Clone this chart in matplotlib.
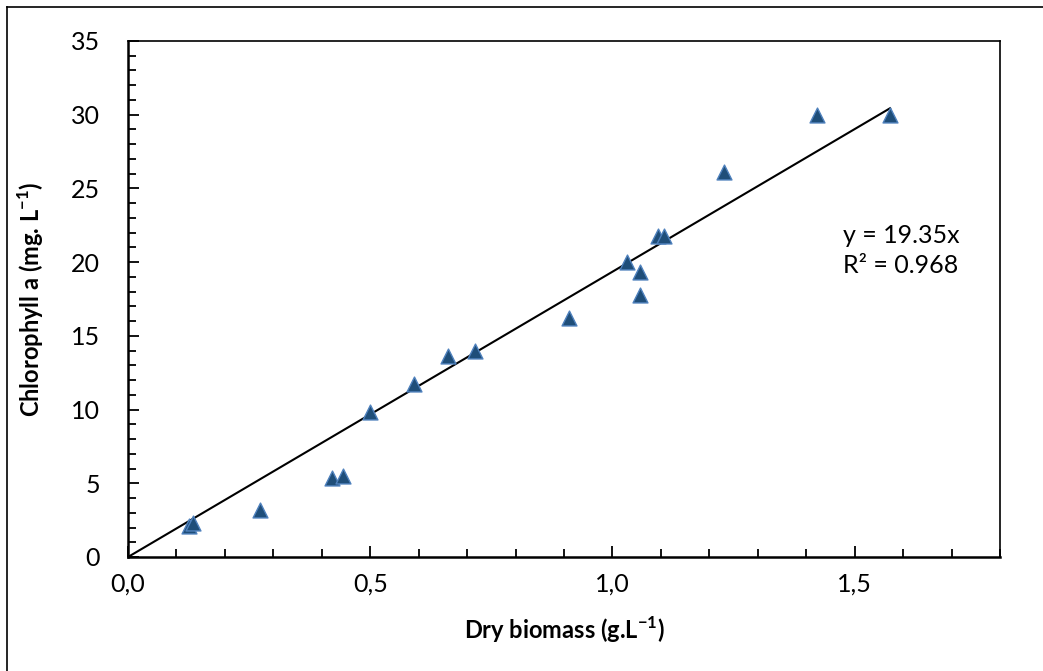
import matplotlib
matplotlib.use('Agg')
import matplotlib.pyplot as plt
from matplotlib.lines import Line2D
from matplotlib.ticker import MultipleLocator, FuncFormatter
import numpy as np

plt.rcParams['font.family'] = ['Lato', 'DejaVu Sans']
plt.rcParams['mathtext.fontset'] = 'custom'
plt.rcParams['mathtext.rm'] = 'Lato'
plt.rcParams['mathtext.bf'] = 'Lato:bold'

# dry biomass (g/L) vs chlorophyll a (mg/L)
dry_biomass = [0.126, 0.135, 0.272, 0.421, 0.443, 0.50, 0.591, 0.660, 0.717,
               0.910, 1.030, 1.057, 1.057, 1.095, 1.106, 1.231, 1.422, 1.573]
chlorophyll = [2.1, 2.3, 3.2, 5.35, 5.5, 9.85, 11.75, 13.6, 14.0,
               16.2, 20.0, 19.3, 17.75, 21.75, 21.75, 26.1, 30.0, 30.0]
slope = 19.35
r_squared = 0.968

W, H = 1043, 671
fig = plt.figure(figsize=(W / 100, H / 100), dpi=100)
ax = fig.add_axes([128 / W, (H - 557) / H, 872 / W, 516 / H])

# trendline through origin
x_fit = np.array([0, max(dry_biomass)])
ax.plot(x_fit, slope * x_fit, color='black', lw=1.5, zorder=2)

ax.scatter(dry_biomass, chlorophyll, marker='^', s=115, facecolor='#1F4E79',
           edgecolor='#4F81BD', linewidth=1.0, zorder=3)

ax.set_xlim(0, 1.8)
ax.set_ylim(0, 35)
ax.xaxis.set_major_locator(MultipleLocator(0.5))
ax.xaxis.set_minor_locator(MultipleLocator(0.1))
ax.yaxis.set_major_locator(MultipleLocator(5))
ax.yaxis.set_minor_locator(MultipleLocator(1))
ax.xaxis.set_major_formatter(FuncFormatter(lambda v, p: f'{v:.1f}'.replace('.', ',')))

ax.tick_params(which='both', direction='in', colors='black', width=1.3)
ax.tick_params(which='major', length=8, labelsize=18)
ax.tick_params(which='minor', length=6)
ax.tick_params(axis='y', which='major', pad=20)
ax.tick_params(axis='x', which='major', pad=11)

for side in ['left', 'bottom']:
    ax.spines[side].set_linewidth(1.8)
for side in ['top', 'right']:
    ax.spines[side].set_linewidth(1.2)

ax.set_xlabel(r'Dry biomass (g.L$^{\mathbf{-1}}$)', fontsize=17, fontweight='bold',
              labelpad=14)
ax.set_ylabel(r'Chlorophyll a (mg. L$^{\mathbf{-1}}$)', fontsize=17, fontweight='bold',
              labelpad=18)

ax.text(1.476, 20.8, f'y = {slope}x\nR² = {r_squared}', fontsize=18,
        ha='left', va='center', linespacing=1.4)

# outer frame (only top and left edges visible)
fig.add_artist(Line2D([7 / W, 7 / W], [0, 1 - 7 / H], transform=fig.transFigure,
                      color='black', lw=1.2))
fig.add_artist(Line2D([7 / W, 1], [1 - 7 / H, 1 - 7 / H], transform=fig.transFigure,
                      color='black', lw=1.2))

fig.savefig('out.png', dpi=100)
